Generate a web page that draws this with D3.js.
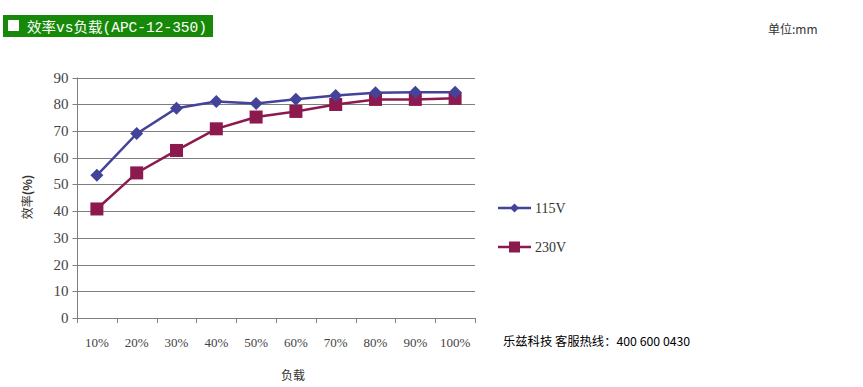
<!DOCTYPE html>
<html><head><meta charset="utf-8">
<script src="https://cdn.jsdelivr.net/npm/d3@7"></script>
<style>body{margin:0;background:#fff}</style>
</head><body>
<script>
const categories = ["10%","20%","30%","40%","50%","60%","70%","80%","90%","100%"];
const v115 = [53.4, 69, 78.5, 81, 80.3, 81.9, 83.3, 84.3, 84.5, 84.5];
const v230 = [40.8, 54.3, 62.7, 70.8, 75.2, 77.3, 79.9, 81.8, 81.8, 82.2];
const yTicks = [0,10,20,30,40,50,60,70,80,90];
const seriesNames = ["115V","230V"];

(function(){
const W=863,H=387;
const svg=d3.select("body").append("svg").attr("width",W).attr("height",H);
const pL=77,pR=475,pT=77.5,pB=318;
const x=d3.scaleBand().domain(categories).range([pL,pR]);
const y=d3.scaleLinear().domain([0,90]).range([pB,pT]);
const blue="#434399", maroon="#8c1a4f";
const serif="'Liberation Serif','Times New Roman',serif";
const cjk="'Noto Sans CJK SC',sans-serif";

// title
svg.append("rect").attr("x",3).attr("y",15).attr("width",210).attr("height",22).attr("fill","#168a08");
svg.append("rect").attr("x",8).attr("y",20).attr("width",11).attr("height",11).attr("fill","#fff");
svg.append("text").attr("x",27).attr("y",31.5).attr("fill","#fff")
  .style("font-family","'Liberation Mono','Noto Sans CJK SC',monospace").style("font-size","14px")
  .attr("textLength",180).attr("lengthAdjust","spacingAndGlyphs")
  .text("效率vs负载(APC-12-350)");
svg.append("text").attr("x",768).attr("y",34).attr("fill","#333")
  .style("font-family",cjk).style("font-size","12px").text("单位:mm");

// grid
svg.append("g").selectAll("line").data(yTicks.filter(d=>d>0)).join("line")
  .attr("x1",pL).attr("x2",pR).attr("y1",d=>Math.round(y(d))+0.5).attr("y2",d=>Math.round(y(d))+0.5)
  .attr("stroke","#7f7f7f").attr("stroke-width",1);

// y axis
const ya=svg.append("g").attr("transform",`translate(${pL+0.5},0)`)
  .call(d3.axisLeft(y).tickValues(yTicks).tickSize(5).tickPadding(4));
ya.select(".domain").attr("stroke","#7f7f7f").attr("d",`M0,${pT}V${pB}`);
ya.selectAll(".tick line").attr("stroke","#7f7f7f");
ya.selectAll(".tick").attr("transform",d=>`translate(0,${Math.round(y(d))+0.5})`);
ya.selectAll("text").style("font-family",serif).style("font-size","15px").attr("fill","#444");

// x axis
const xa=svg.append("g").attr("transform",`translate(0,${pB+0.5})`)
  .call(d3.axisBottom(x).tickSize(0).tickPadding(19));
xa.select(".domain").attr("stroke","#7f7f7f").attr("d",`M${pL},0H${pR}`);
xa.selectAll("text").style("font-family",serif).style("font-size","13px").attr("fill","#444");
svg.append("g").selectAll("line").data(d3.range(categories.length+1)).join("line")
  .attr("x1",i=>Math.round(pL+i*x.step())+0.5).attr("x2",i=>Math.round(pL+i*x.step())+0.5)
  .attr("y1",pB).attr("y2",pB+5).attr("stroke","#7f7f7f");

// axis titles
const yt=svg.append("text").attr("transform","translate(32,197) rotate(-90)").attr("text-anchor","middle")
  .style("font-family",cjk).style("font-size","12px").attr("fill","#333");
yt.append("tspan").text("效率");
yt.append("tspan").style("font-weight","bold").text("(%)");
svg.append("text").attr("x",293).attr("y",380).attr("text-anchor","middle")
  .style("font-family",cjk).style("font-size","12px").attr("fill","#333").text("负载");

const cx=d=>x(d)+x.bandwidth()/2;
const line=d3.line().x((d,i)=>cx(categories[i])).y(d=>y(d));
function diamond(g,px,py,r,c){g.append("path").attr("d",`M${px},${py-r}L${px+r},${py}L${px},${py+r}L${px-r},${py}Z`).attr("fill",c);}

svg.append("path").datum(v230).attr("d",line).attr("fill","none").attr("stroke",maroon).attr("stroke-width",2.5);
svg.append("g").selectAll("rect").data(v230).join("rect")
  .attr("x",(d,i)=>cx(categories[i])-6.5).attr("y",d=>y(d)-6.5).attr("width",13).attr("height",13).attr("fill",maroon);
svg.append("path").datum(v115).attr("d",line).attr("fill","none").attr("stroke",blue).attr("stroke-width",2.5);
const dg=svg.append("g");
v115.forEach((d,i)=>diamond(dg,cx(categories[i]),y(d),6.5,blue));

// legend
const lg=svg.append("g");
lg.append("line").attr("x1",498).attr("x2",531).attr("y1",208).attr("y2",208).attr("stroke",blue).attr("stroke-width",2.5);
diamond(lg,514.5,208,4.5,blue);
lg.append("text").attr("x",535).attr("y",213).text(seriesNames[0]).style("font-family",serif).style("font-size","14px").attr("fill","#333");
lg.append("line").attr("x1",498).attr("x2",531).attr("y1",247).attr("y2",247).attr("stroke",maroon).attr("stroke-width",2.5);
lg.append("rect").attr("x",509).attr("y",241.5).attr("width",11).attr("height",11).attr("fill",maroon);
lg.append("text").attr("x",535).attr("y",252).text(seriesNames[1]).style("font-family",serif).style("font-size","14px").attr("fill","#333");

svg.append("text").attr("x",503).attr("y",346).attr("fill","#000")
  .style("font-family",cjk).style("font-size","12.3px").text("乐兹科技 客服热线：400 600 0430");
})();
</script>
</body></html>
